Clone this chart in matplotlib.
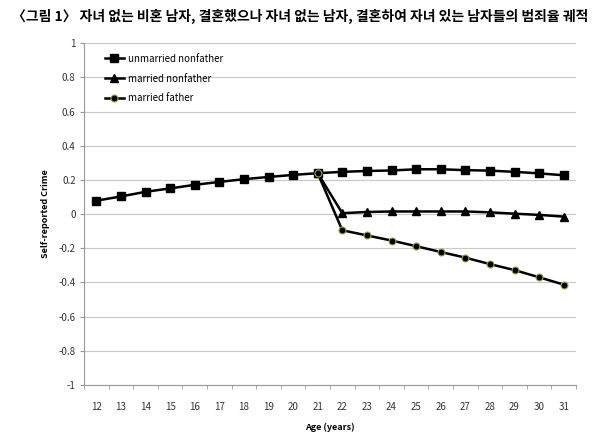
import matplotlib
matplotlib.use("Agg")

import matplotlib.pyplot as plt
import numpy as np

ages = list(range(12, 32))
unmarried_nonfather = [0.078, 0.103, 0.13, 0.15, 0.171, 0.188, 0.204, 0.217, 0.229, 0.239,
                       0.247, 0.252, 0.255, 0.262, 0.262, 0.257, 0.254, 0.247, 0.238, 0.227]
married_ages = list(range(21, 32))
married_nonfather = [0.239, 0.005, 0.012, 0.015, 0.015, 0.015, 0.015, 0.01, 0.002, -0.005, -0.015]
married_father = [0.239, -0.095, -0.125, -0.155, -0.188, -0.222, -0.255, -0.293, -0.328, -0.37, -0.413]

title = "〈그림 1〉 자녀 없는 비혼 남자, 결혼했으나 자녀 없는 남자, 결혼하여 자녀 있는 남자들의 범죄율 궤적"
yticks = [-1, -0.8, -0.6, -0.4, -0.2, 0, 0.2, 0.4, 0.6, 0.8, 1]

plt.rcParams["font.family"] = ["Noto Sans CJK KR", "DejaVu Sans"]

fig = plt.figure(figsize=(6, 4.45), dpi=100)
ax = fig.add_axes([0.14, 0.135, 0.82, 0.768])

ax.plot(ages, unmarried_nonfather, color="black", lw=1.8, marker="s", ms=5.5,
        label="unmarried nonfather", zorder=3)
ax.plot(married_ages, married_nonfather, color="black", lw=1.8, marker="^", ms=6,
        label="married nonfather", zorder=3)
ax.plot(married_ages, married_father, color="black", lw=1.8, marker="o", ms=5,
        mec="#9aa64a", mew=0.8, label="married father", zorder=4)

ax.set_xlim(11.5, 31.5)
ax.set_ylim(-1, 1)
ax.set_yticks(yticks)
ax.set_yticklabels([f"{v:g}" for v in yticks], fontsize=7, color="#333333")
ax.set_xticks(ages)
ax.set_xticklabels([str(a) for a in ages], fontsize=7, color="#333333")
ax.set_xticks(np.arange(11.5, 32, 1), minor=True)
ax.tick_params(axis="x", which="major", length=0, pad=12)
ax.tick_params(axis="x", which="minor", length=3, color="#999999")
ax.tick_params(axis="y", length=3, color="#999999", pad=3)

ax.grid(axis="y", color="#c8c8c8", lw=0.8)
ax.set_axisbelow(True)
for s in ["top", "right"]:
    ax.spines[s].set_visible(False)
for s in ["left", "bottom"]:
    ax.spines[s].set_color("#999999")
    ax.spines[s].set_linewidth(0.8)

ax.set_xlabel("Age (years)", fontsize=6.5, fontweight="bold", labelpad=8)
ax.set_ylabel("Self-reported Crime", fontsize=6.5, fontweight="bold", labelpad=6)

ax.legend(loc="upper left", bbox_to_anchor=(0.02, 1.0), frameon=False, fontsize=7,
          handlelength=2.0, handletextpad=0.4, labelspacing=1.0, borderpad=0.6)

fig.text(0.5, 0.962, title, ha="center", va="center", fontsize=10, fontweight="bold")

fig.savefig("out.png", dpi=100, facecolor="white")
